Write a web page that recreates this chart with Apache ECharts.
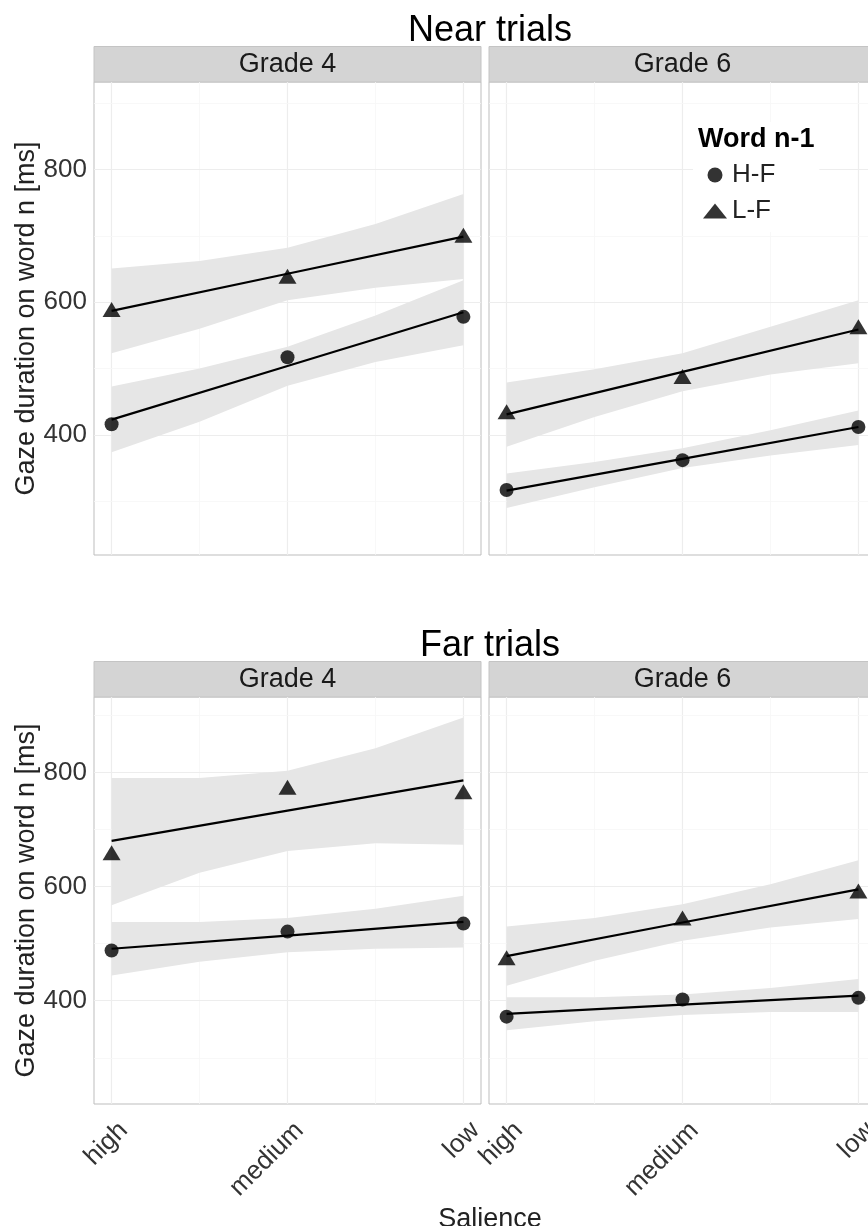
<!DOCTYPE html>
<html>
<head>
<meta charset="utf-8">
<script src="https://cdn.jsdelivr.net/npm/echarts@6/dist/echarts.min.js"></script>
<style>
  html, body { margin: 0; padding: 0; background: #fff; }
  #chart { width: 868px; height: 1226px; }
</style>
</head>
<body>
<div id="chart"></div>
<script>
// x categories (plotted at 1, 2, 3) and where the CI bands were read
const salience = ["high", "medium", "low"];
const bandX = [1, 1.5, 2, 2.5, 3];

// group means (points)
const nearG4HF = [416, 517, 578];
const nearG4LF = [589, 639, 701];
const nearG6HF = [317, 362, 412];
const nearG6LF = [435, 488, 563];
const farG4HF = [488, 521, 535];
const farG4LF = [659, 774, 766];
const farG6HF = [372, 402, 405];
const farG6LF = [475, 545, 592];

// fitted lines at high / medium / low
const nearG4HFFit = [423, 504, 585];
const nearG4LFFit = [587, 643, 699];
const nearG6HFFit = [316, 364, 412];
const nearG6LFFit = [431, 495, 559];
const farG4HFFit = [491, 514, 538];
const farG4LFFit = [680, 733, 786];
const farG6HFFit = [377, 393, 409];
const farG6LFFit = [478, 537, 595];

// confidence bands, upper / lower at bandX
const nearG4HFUp = [473, 500, 533, 580, 633];
const nearG4HFLo = [374, 420, 474, 510, 535];
const nearG4LFUp = [651, 662, 682, 718, 763];
const nearG4LFLo = [523, 560, 603, 622, 635];
const nearG6HFUp = [342, 359, 380, 407, 437];
const nearG6HFLo = [290, 321, 350, 369, 385];
const nearG6LFUp = [479, 499, 523, 563, 603];
const nearG6LFLo = [382, 427, 466, 491, 508];
const farG4HFUp = [538, 538, 545, 561, 584];
const farG4HFLo = [444, 468, 485, 491, 493];
const farG4LFUp = [790, 790, 803, 842, 896];
const farG4LFLo = [567, 624, 662, 676, 673];
const farG6HFUp = [406, 406, 411, 422, 438];
const farG6HFLo = [348, 364, 375, 380, 380];
const farG6LFUp = [530, 545, 569, 604, 646];
const farG6LFLo = [426, 470, 505, 528, 543];

const yTicks = [400, 600, 800];
const yMinor = [300, 500, 700, 900];

const FONT = "Liberation Sans, Arial, sans-serif";

const panels = [
  { hf: nearG4HF, lf: nearG4LF, hfFit: nearG4HFFit, lfFit: nearG4LFFit,
    hfUp: nearG4HFUp, hfLo: nearG4HFLo, lfUp: nearG4LFUp, lfLo: nearG4LFLo },
  { hf: nearG6HF, lf: nearG6LF, hfFit: nearG6HFFit, lfFit: nearG6LFFit,
    hfUp: nearG6HFUp, hfLo: nearG6HFLo, lfUp: nearG6LFUp, lfLo: nearG6LFLo },
  { hf: farG4HF, lf: farG4LF, hfFit: farG4HFFit, lfFit: farG4LFFit,
    hfUp: farG4HFUp, hfLo: farG4HFLo, lfUp: farG4LFUp, lfLo: farG4LFLo },
  { hf: farG6HF, lf: farG6LF, hfFit: farG6HFFit, lfFit: farG6LFFit,
    hfUp: farG6HFUp, hfLo: farG6HFLo, lfUp: farG6LFUp, lfLo: farG6LFLo }
];

const grids = [
  { left: 94, top: 82, width: 387, height: 473 },
  { left: 489, top: 82, width: 387, height: 473 },
  { left: 94, top: 697, width: 387, height: 407 },
  { left: 489, top: 697, width: 387, height: 407 }
];

const xAxes = [];
const yAxes = [];
const series = [];

grids.forEach((g, i) => {
  g.show = true;
  g.backgroundColor = "#fff";
  g.borderColor = "#bdbdbd";
  g.borderWidth = 1;
  g.containLabel = false;
  g.outerBoundsMode = "none";

  const bottomRow = i >= 2;
  const leftCol = i % 2 === 0;

  xAxes.push({
    type: "value",
    gridIndex: i,
    min: 0.9,
    max: 3.1,
    splitLine: { show: false },
    axisLine: { show: false },
    axisTick: { show: false },
    axisLabel: {
      show: bottomRow,
      customValues: [1, 2, 3],
      rotate: 45,
      margin: 2,
      verticalAlign: "top",
      padding: [10, 6, 0, 0],
      color: "#333",
      fontSize: 26,
      fontFamily: FONT,
      formatter: v => salience[Math.round(v) - 1]
    }
  });

  yAxes.push({
    type: "value",
    gridIndex: i,
    min: 219,
    max: 932,
    splitLine: { show: false },
    axisLine: { show: false },
    axisTick: { show: false },
    axisLabel: {
      show: leftCol,
      customValues: yTicks,
      margin: 7,
      color: "#333",
      fontSize: 26,
      fontFamily: FONT
    },
    name: leftCol ? "Gaze duration on word n [ms]" : "",
    nameLocation: "middle",
    nameRotate: 90,
    nameGap: 54,
    nameTextStyle: { color: "#222", fontSize: 27, fontFamily: FONT }
  });

  // panel grid lines
  const lines = [];
  [1, 2, 3].forEach(x => lines.push({ xAxis: x, lineStyle: { color: "#ededed", width: 1.2 } }));
  [1.5, 2.5].forEach(x => lines.push({ xAxis: x, lineStyle: { color: "#f6f6f6", width: 0.8 } }));
  yTicks.forEach(y => lines.push({ yAxis: y, lineStyle: { color: "#ededed", width: 1.2 } }));
  yMinor.forEach(y => lines.push({ yAxis: y, lineStyle: { color: "#f6f6f6", width: 0.8 } }));
  series.push({
    type: "line",
    xAxisIndex: i,
    yAxisIndex: i,
    data: [],
    silent: true,
    z: 0,
    markLine: {
      silent: true,
      z: 0,
      symbol: ["none", "none"],
      label: { show: false },
      lineStyle: { type: "solid" },
      emphasis: { disabled: true },
      animation: false,
      data: lines
    }
  });

  const p = panels[i];

  // confidence bands
  [[p.hfUp, p.hfLo], [p.lfUp, p.lfLo]].forEach(([up, lo]) => {
    series.push({
      type: "custom",
      xAxisIndex: i,
      yAxisIndex: i,
      silent: true,
      z: 1,
      data: bandX.map((x, k) => [x, lo[k], up[k]]),
      encode: { x: 0, y: [1, 2] },
      renderItem: (params, api) => {
        if (params.dataIndex !== 0) return;
        const pts = [];
        bandX.forEach((x, k) => pts.push(api.coord([x, up[k]])));
        for (let k = bandX.length - 1; k >= 0; k--) pts.push(api.coord([bandX[k], lo[k]]));
        return {
          type: "polygon",
          shape: { points: pts },
          style: { fill: "#e6e6e6" }
        };
      }
    });
  });

  // fitted lines
  [p.hfFit, p.lfFit].forEach(fit => {
    series.push({
      type: "line",
      xAxisIndex: i,
      yAxisIndex: i,
      silent: true,
      z: 3,
      showSymbol: false,
      data: fit.map((v, k) => [k + 1, v]),
      lineStyle: { color: "#000", width: 2.2 }
    });
  });

  // group means
  series.push({
    name: "H-F",
    type: "scatter",
    xAxisIndex: i,
    yAxisIndex: i,
    z: 4,
    symbol: "circle",
    symbolSize: 14,
    itemStyle: { color: "#000" },
    data: p.hf.map((v, k) => [k + 1, v])
  });
  series.push({
    name: "L-F",
    type: "scatter",
    xAxisIndex: i,
    yAxisIndex: i,
    z: 4,
    symbol: "triangle",
    symbolSize: [18, 15],
    itemStyle: { color: "#000" },
    data: p.lf.map((v, k) => [k + 1, v])
  });
});

// facet strips
const strips = [];
grids.forEach((g, i) => {
  const top = i < 2 ? 46.5 : 661.5;
  const h = 35.5;
  strips.push({
    type: "rect",
    shape: { x: g.left, y: top, width: g.width, height: h },
    style: { fill: "#d4d4d4", stroke: "#c4c4c4", lineWidth: 1 }
  });
  strips.push({
    type: "text",
    x: g.left + g.width / 2,
    y: top + h / 2,
    style: {
      text: i % 2 === 0 ? "Grade 4" : "Grade 6",
      fill: "#1a1a1a",
      font: "27px " + FONT,
      align: "center",
      verticalAlign: "middle"
    }
  });
});

const chart = echarts.init(document.getElementById("chart"), null, { renderer: "canvas" });
chart.setOption({
  animation: false,
  backgroundColor: "#fff",
  title: [
    { text: "Near trials", left: 485, top: 8, textAlign: "center",
      textStyle: { fontSize: 36, fontWeight: "normal", color: "#000", fontFamily: FONT, lineHeight: 36 } },
    { text: "Far trials", left: 485, top: 623, textAlign: "center",
      textStyle: { fontSize: 36, fontWeight: "normal", color: "#000", fontFamily: FONT, lineHeight: 36 } },
    { text: "Salience", left: 485, top: 1201, textAlign: "center",
      textStyle: { fontSize: 27, fontWeight: "normal", color: "#222", fontFamily: FONT, lineHeight: 27 } },
    { text: "Word n-1", left: 698, top: 126, padding: 0,
      textStyle: { fontSize: 27, fontWeight: "bold", color: "#000", fontFamily: FONT, lineHeight: 27 } }
  ],
  legend: {
    orient: "vertical",
    left: 693,
    top: 122,
    padding: [40, 44, 8, 10],
    backgroundColor: "#fff",
    itemWidth: 24,
    itemHeight: 15,
    itemGap: 10,
    selectedMode: false,
    textStyle: { fontSize: 26, color: "#222", fontFamily: FONT, lineHeight: 24 },
    data: [
      { name: "H-F", icon: "circle" },
      { name: "L-F", icon: "triangle" }
    ]
  },
  grid: grids,
  xAxis: xAxes,
  yAxis: yAxes,
  series: series,
  graphic: strips
});
</script>
</body>
</html>
